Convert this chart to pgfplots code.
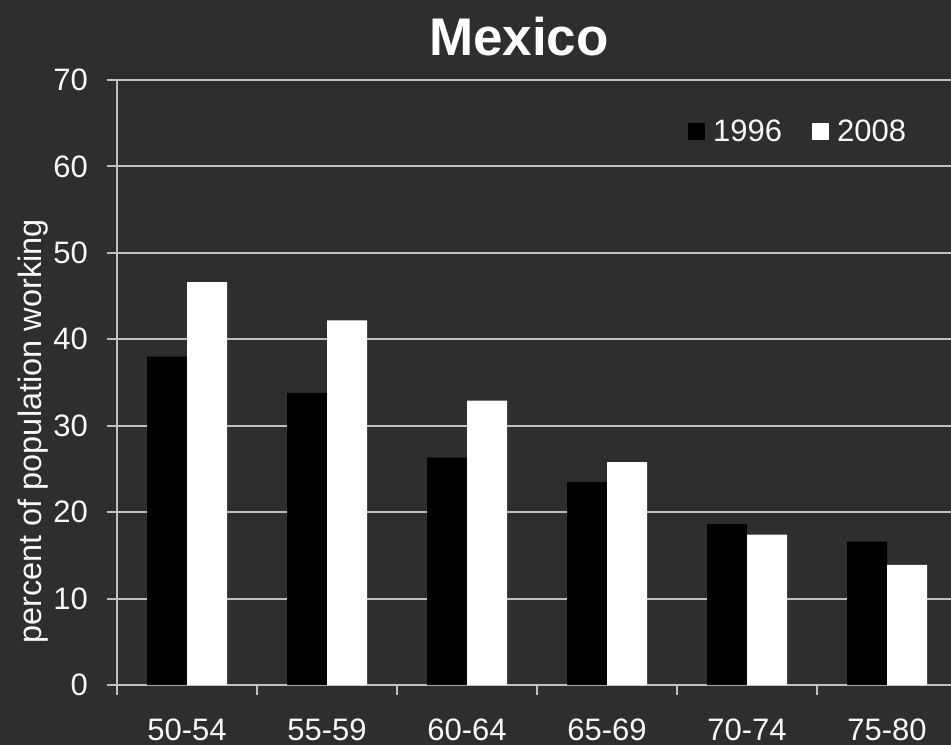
\documentclass[border=0pt]{standalone}
\usepackage{pgfplots}
\pgfplotsset{compat=1.18}
\usepackage{fontspec}
\setmainfont{Liberation Sans}
\definecolor{bg}{HTML}{2E2E2E}
\definecolor{gridc}{HTML}{C0C0C0}
\definecolor{txt}{HTML}{F8F8F8}
\begin{document}
\begin{tikzpicture}[x=1pt,y=1pt]
\useasboundingbox (0,0) rectangle (951,745);
\fill[bg] (0,0) rectangle (951,745);
\node[anchor=base, text=white, font=\fontsize{53}{60}\selectfont\bfseries] at (519,689) {Mexico};
\begin{axis}[
  at={(117pt,60pt)}, anchor=south west,
  scale only axis, width=834pt, height=605pt,
  xmin=-0.5, xmax=5.457, ymin=0, ymax=70,
  ytick={0,10,...,70},
  xtick={0,...,5},
  xticklabels={50-54,55-59,60-64,65-69,70-74,75-80},
  minor xtick={-0.5,0.5,...,5.5},
  ymajorgrids,
  major grid style={gridc, line width=2pt},
  axis x line=bottom, axis y line=left,
  axis line style={gridc, line width=2pt, -},
  tick align=outside,
  major tick length=10pt, minor tick length=10pt,
  major x tick style={draw=none},
  minor x tick style={gridc, line width=2pt},
  ytick style={gridc, line width=2pt},
  /pgf/number format/assume math mode=true,
  tick label style={font=\fontsize{31}{37}\selectfont, text=txt},
  yticklabel style={anchor=east, inner sep=0pt, xshift=-19pt},
  xticklabel style={anchor=base, inner sep=0pt, yshift=-45pt},
  ylabel={percent of population working},
  ylabel style={at={(axis description cs:-0.0911,0.419)}, anchor=base, font=\fontsize{32.5}{38}\selectfont, text=txt},
  legend columns=2,
  legend image code/.code={\fill[#1] (0pt,-8.5pt) rectangle (17pt,8.5pt);},
  legend style={draw=none, fill=none, at={(axis description cs:0.6847,0.9157)}, anchor=west,
    inner sep=0pt, font=\fontsize{31}{37}\selectfont, text=txt,
    nodes={inner sep=0pt},
    /tikz/every odd column/.style={column sep=8pt},
    /tikz/every even column/.style={column sep=30pt}},
]
\addplot[ybar, bar width=0.2857, bar shift=-0.142857, fill=black, draw=none]
  coordinates {(0,38.0) (1,33.8) (2,26.3) (3,23.5) (4,18.6) (5,16.6)};
\addlegendentry{1996}
\addplot[ybar, bar width=0.2857, bar shift=0.142857, fill=white, draw=none]
  coordinates {(0,46.6) (1,42.2) (2,32.9) (3,25.8) (4,17.4) (5,13.9)};
\addlegendentry{2008}
\end{axis}
\end{tikzpicture}
\end{document}
